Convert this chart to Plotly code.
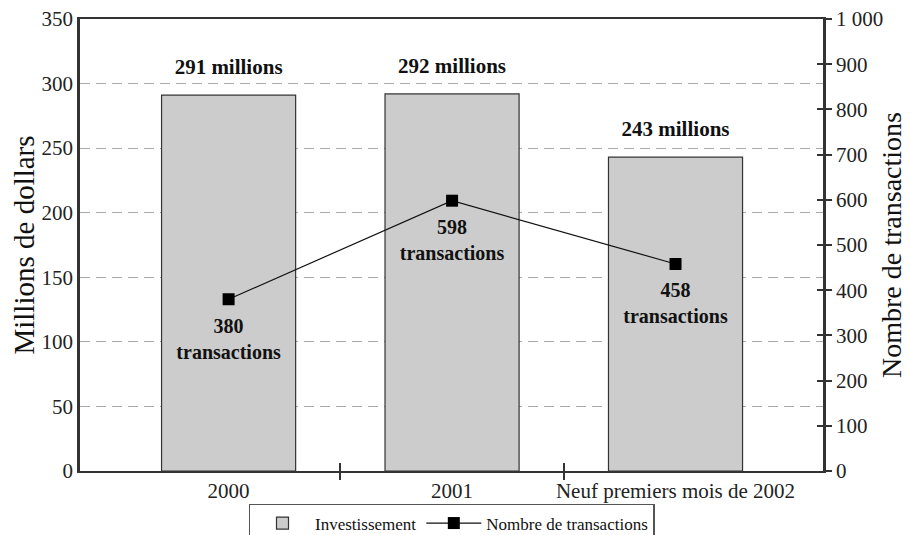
import plotly.graph_objects as go

categories = ["2000", "2001", "Neuf premiers mois de 2002"]
investissement = [291, 292, 243]
transactions = [380, 598, 458]
bar_labels = ["291 millions", "292 millions", "243 millions"]
line_labels = ["380<br>transactions", "598<br>transactions", "458<br>transactions"]
left_ticks = [0, 50, 100, 150, 200, 250, 300, 350]
right_ticks = [0, 100, 200, 300, 400, 500, 600, 700, 800, 900, 1000]
right_ticktext = ["0", "100", "200", "300", "400", "500", "600", "700", "800", "900", "1 000"]

xpos = list(range(len(categories)))
dividers = [i + 0.5 for i in xpos[:-1]]
FONT = "Liberation Serif"

fig = go.Figure()
fig.add_trace(go.Bar(
    x=xpos, y=investissement, name="Investissement", width=0.6,
    marker=dict(color="#cccccc", line=dict(color="#333333", width=1.2)),
))
# bar value labels (transparent spacer markers lift the text above the bars)
fig.add_trace(go.Scatter(
    x=xpos, y=investissement, mode="text+markers", showlegend=False,
    marker=dict(size=24, color="rgba(0,0,0,0)"),
    text=["<b>%s</b>" % t for t in bar_labels], textposition="top center",
    textfont=dict(family=FONT, size=21, color="#111111"), hoverinfo="skip",
    cliponaxis=False,
))
fig.add_trace(go.Scatter(
    x=xpos, y=transactions, name="Nombre de transactions", yaxis="y2",
    mode="lines+markers",
    line=dict(color="#111111", width=1.2),
    marker=dict(symbol="square", size=12, color="#000000"),
))
fig.add_trace(go.Scatter(
    x=xpos, y=transactions, yaxis="y2", mode="text+markers", showlegend=False,
    marker=dict(size=28, color="rgba(0,0,0,0)"),
    text=["<b>%s</b>" % t for t in line_labels], textposition="bottom center",
    textfont=dict(family=FONT, size=20, color="#111111"), hoverinfo="skip",
))

xr = [-0.665, 2.66]
tickfont = dict(family=FONT, size=21, color="#222222")
fig.update_layout(
    width=902, height=527,
    margin=dict(l=72, r=87, t=11, b=64, autoexpand=False),
    paper_bgcolor="white", plot_bgcolor="white",
    font=dict(family=FONT, size=16, color="#222222"),
    xaxis=dict(
        range=xr, tickmode="array", tickvals=xpos, ticktext=categories,
        ticks="", showgrid=False, zeroline=False, automargin=False,
        showline=True, linecolor="#333333", linewidth=2, mirror=True,
        tickfont=tickfont, ticklabeloverflow="allow",
    ),
    xaxis2=dict(
        range=xr, overlaying="x", anchor="y", side="bottom", automargin=False,
        tickmode="array", tickvals=dividers, ticks="outside", ticklen=8,
        tickwidth=1.5, tickcolor="#333333", showticklabels=False,
        showgrid=False, zeroline=False, showline=False,
    ),
    xaxis3=dict(
        range=xr, overlaying="x", anchor="y", side="bottom", automargin=False,
        tickmode="array", tickvals=dividers, ticks="inside", ticklen=8,
        tickwidth=1.5, tickcolor="#333333", showticklabels=False,
        showgrid=False, zeroline=False, showline=False,
    ),
    yaxis=dict(
        range=[0, 350], tickmode="array", tickvals=left_ticks, automargin=False,
        showgrid=True, gridcolor="#a8a8a8", griddash="10px,6px", gridwidth=1.2,
        zeroline=False, showline=True, linecolor="#333333", linewidth=2.5,
        ticks="", tickfont=tickfont, ticklabeloverflow="allow",
        title=dict(text="Millions de dollars", font=dict(family=FONT, size=29, color="#111111"), standoff=9),
    ),
    yaxis2=dict(
        range=[0, 1000], overlaying="y", side="right", anchor="x", automargin=False,
        tickmode="array", tickvals=right_ticks, ticktext=right_ticktext,
        showgrid=False, zeroline=False, showline=True, linecolor="#333333", linewidth=2.5,
        ticks="outside", ticklen=6, tickwidth=1.5, tickcolor="#333333",
        tickfont=tickfont, ticklabeloverflow="allow",
        title=dict(text="Nombre de transactions", font=dict(family=FONT, size=28, color="#111111"), standoff=0),
    ),
    yaxis3=dict(
        range=[0, 1000], overlaying="y", side="right", anchor="x", automargin=False,
        tickmode="array", tickvals=right_ticks, showticklabels=False,
        showgrid=False, zeroline=False, showline=False,
        ticks="inside", ticklen=6, tickwidth=1.5, tickcolor="#333333",
    ),
    legend=dict(
        orientation="h", x=0.5, xanchor="center", y=-0.073, yanchor="top",
        bordercolor="#555555", borderwidth=1.5, bgcolor="white",
        font=dict(family=FONT, size=17, color="#111111"),
        itemwidth=55, tracegroupgap=0,
    ),
    showlegend=True,
)
fig.add_trace(go.Scatter(x=[None], y=[None], xaxis="x2", showlegend=False, hoverinfo="skip"))
fig.add_trace(go.Scatter(x=[None], y=[None], xaxis="x3", yaxis="y3", showlegend=False, hoverinfo="skip"))

fig.write_html("out.html")
